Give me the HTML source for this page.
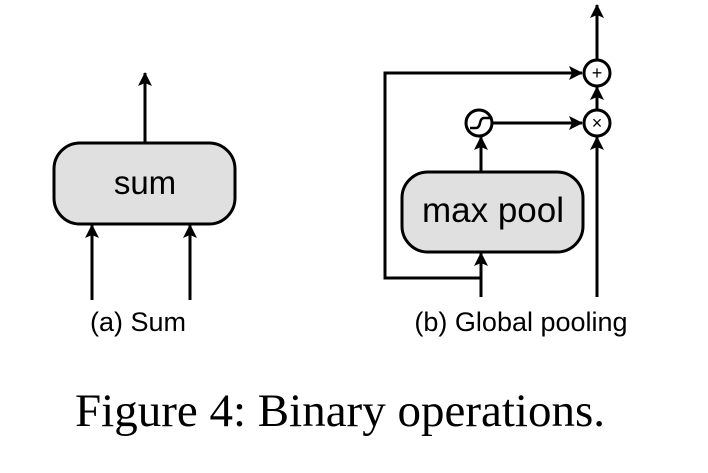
<!DOCTYPE html>
<html><head><style>body{margin:0;background:#fff}</style></head><body>
<svg width="708" height="468" xmlns="http://www.w3.org/2000/svg">
<defs><marker id="b" markerWidth="14" markerHeight="14" refX="13" refY="7" orient="auto" markerUnits="userSpaceOnUse"><path d="M0,0 L14,7 L0,14 L3,7 Z" fill="#000"/></marker></defs>
<g stroke="#000" stroke-width="3" fill="none">
<rect x="54" y="143" width="181" height="81" rx="26" fill="#e0e0e0"/>
<line x1="145" y1="143" x2="145" y2="73" marker-end="url(#b)"/>
<line x1="92" y1="300" x2="92" y2="225" marker-end="url(#b)"/>
<line x1="190" y1="300" x2="190" y2="225" marker-end="url(#b)"/>
<rect x="402" y="172" width="181" height="80" rx="26" fill="#e0e0e0"/>
<polyline points="481,278 385,278 385,73 582,73" marker-end="url(#b)"/>
<line x1="481" y1="297" x2="481" y2="253" marker-end="url(#b)"/>
<line x1="481" y1="172" x2="481" y2="137" marker-end="url(#b)"/>
<line x1="492" y1="123" x2="582" y2="123" marker-end="url(#b)"/>
<line x1="597" y1="297" x2="597" y2="137" marker-end="url(#b)"/>
<line x1="597" y1="110" x2="597" y2="87" marker-end="url(#b)"/>
<line x1="597" y1="60" x2="597" y2="5" marker-end="url(#b)"/>
<circle cx="479" cy="123" r="13" fill="#fff"/>
<circle cx="597" cy="73" r="13" fill="#fff"/>
<circle cx="597" cy="123" r="13" fill="#fff"/>
<path d="M470,128 L476,128 Q479,128 480,123 Q481,118 484,118 L490,118" stroke-width="2.5"/>
</g>
<g font-family="Liberation Sans, sans-serif" text-anchor="middle" fill="#000">
<text x="597" y="79" font-size="18">+</text>
<text x="597" y="129" font-size="18">×</text>
<text x="145" y="194" font-size="33">sum</text>
<text x="493" y="222" font-size="35">max pool</text>
<text x="138" y="331" font-size="27">(a) Sum</text>
<text x="521" y="331" font-size="27">(b) Global pooling</text>
</g>
<text x="340" y="426" font-family="Liberation Serif, serif" font-size="47" text-anchor="middle">Figure 4: Binary operations.</text>
</svg>
</body></html>
